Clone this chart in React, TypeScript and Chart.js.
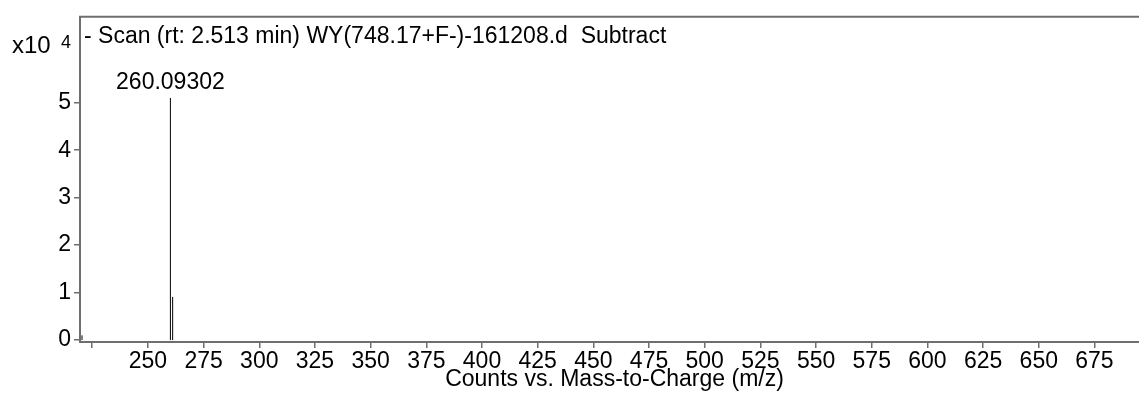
import React, { useEffect, useRef } from "react";
import { Chart, registerables } from "chart.js";

Chart.register(...registerables);

const peakMz = [220.4, 260.09302, 261.1];
const peakIntensity = [0.1, 5.1, 0.91];
const xTickValues = [225, 250, 275, 300, 325, 350, 375, 400, 425, 450, 475, 500, 525, 550, 575, 600, 625, 650, 675];
const xTickHidden = [225];
const yTickValues = [0, 1, 2, 3, 4, 5];
const titleText = "- Scan (rt: 2.513 min) WY(748.17+F-)-161208.d  Subtract";
const peakLabel = "260.09302";
const peakLabelIndex = 1;
const xAxisTitle = "Counts vs. Mass-to-Charge (m/z)";

const FONT = "'Liberation Sans', Arial, Helvetica, sans-serif";
const AXIS_COLOR = "#6e6e6e";

export default function App() {
  const ref = useRef<HTMLCanvasElement | null>(null);
  useEffect(() => {
    if (!ref.current) return;
    const data: { x: number; y: number | null }[] = [];
    peakMz.forEach((mz, i) => {
      data.push({ x: mz, y: 0 });
      data.push({ x: mz, y: peakIntensity[i] });
      data.push({ x: mz, y: null });
    });
    const textPlugin = {
      id: "texts",
      afterDraw(chart: any) {
        const ctx = chart.ctx;
        const area = chart.chartArea;
        ctx.save();
        ctx.strokeStyle = AXIS_COLOR;
        ctx.lineWidth = 2;
        ctx.beginPath();
        ctx.moveTo(area.left - 1, area.top);
        ctx.lineTo(area.right, area.top);
        ctx.stroke();
        ctx.fillStyle = "#000";
        ctx.textBaseline = "middle";
        ctx.textAlign = "left";
        ctx.font = `23px ${FONT}`;
        ctx.fillText(titleText, area.left + 4, 37);
        ctx.font = `24px ${FONT}`;
        ctx.fillText("x10", 12, 46);
        ctx.font = `18px ${FONT}`;
        ctx.fillText("4", 61, 43);
        const xs = chart.scales.x;
        const ys = chart.scales.y;
        const px = xs.getPixelForValue(peakMz[peakLabelIndex]);
        const py = ys.getPixelForValue(peakIntensity[peakLabelIndex]);
        ctx.font = `23px ${FONT}`;
        ctx.textAlign = "center";
        ctx.fillText(peakLabel, px, py - 15);
        ctx.fillText(xAxisTitle, (area.left + area.right) / 2 + 5, 380);
        ctx.restore();
      },
    };
    const chart = new Chart(ref.current, {
      type: "scatter",
      data: {
        datasets: [
          {
            data,
            showLine: true,
            spanGaps: false,
            borderColor: "#000",
            borderWidth: 1,
            pointRadius: 0,
            tension: 0,
          },
        ],
      },
      options: {
        animation: false,
        responsive: false,
        maintainAspectRatio: false,
        layout: { padding: { top: 15, left: 0, right: 0, bottom: 0 } },
        plugins: { legend: { display: false }, tooltip: { enabled: false }, title: { display: false } },
        scales: {
          x: {
            type: "linear",
            min: 219.5,
            max: 695,
            afterFit: (s: any) => {
              s.height = 52;
            },
            afterBuildTicks: (s: any) => {
              s.ticks = xTickValues.map((v) => ({ value: v }));
            },
            ticks: {
              autoSkip: false,
              maxRotation: 0,
              padding: 0,
              color: "#000",
              font: { family: FONT, size: 23 },
              callback: (v: any) => (xTickHidden.includes(Number(v)) ? "" : String(v)),
            },
            grid: { drawOnChartArea: false, drawTicks: true, tickLength: 6, color: AXIS_COLOR, lineWidth: 1.5 },
            border: { display: true, color: AXIS_COLOR, width: 2 },
            title: { display: false },
          },
          y: {
            type: "linear",
            min: -0.04,
            max: 6.81,
            afterFit: (s: any) => {
              s.width = 80;
            },
            afterBuildTicks: (s: any) => {
              s.ticks = yTickValues.map((v) => ({ value: v }));
            },
            ticks: {
              padding: 3,
              color: "#000",
              font: { family: FONT, size: 23 },
              callback: (v: any) => String(v),
            },
            grid: { drawOnChartArea: false, drawTicks: true, tickLength: 6, color: AXIS_COLOR, lineWidth: 1.5 },
            border: { display: true, color: AXIS_COLOR, width: 2 },
          },
        },
      },
      plugins: [textPlugin],
    } as any);
    return () => chart.destroy();
  }, []);
  return (
    <div style={{ position: "fixed", left: 0, top: 0, width: 1139, height: 394, background: "#fff" }}>
      <canvas ref={ref} width={1139} height={394} style={{ width: 1139, height: 394, display: "block" }} />
    </div>
  );
}
